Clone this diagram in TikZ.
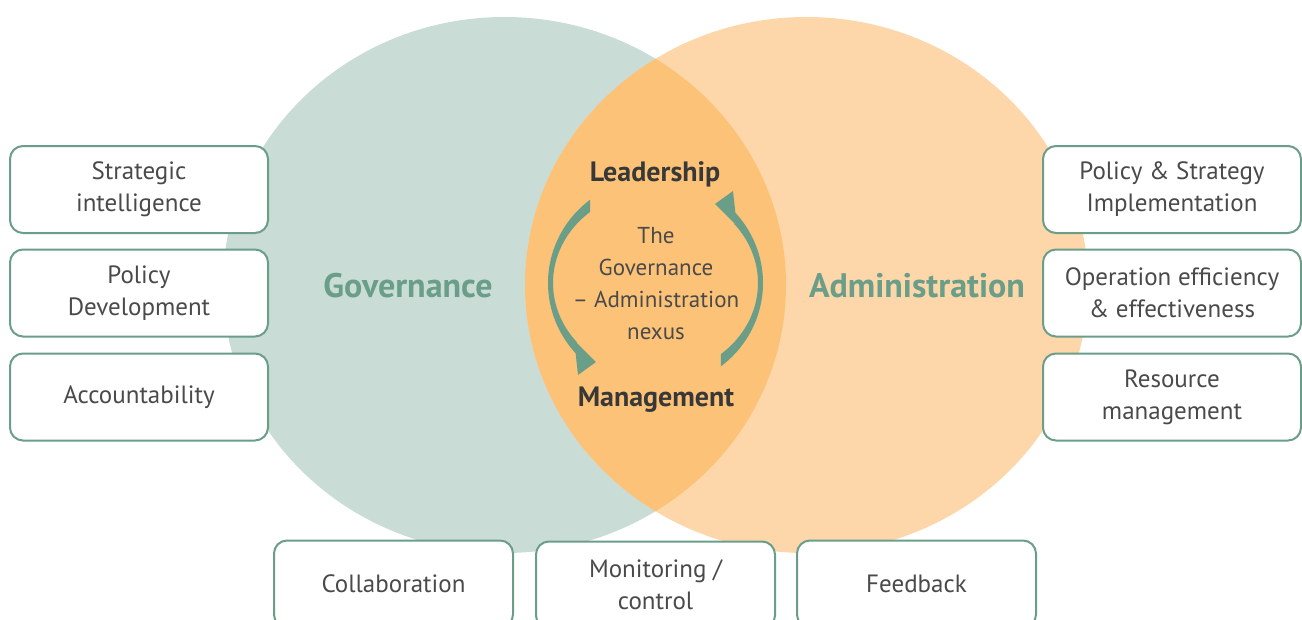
\documentclass[tikz,border=0pt]{standalone}
\usepackage{fontspec}
\setmainfont{PT Sans}
\usetikzlibrary{arrows.meta}
\definecolor{govfill}{HTML}{C9DCD6}
\definecolor{admfill}{HTML}{FDD7AA}
\definecolor{lensfill}{HTML}{FCC277}
\definecolor{accent}{HTML}{6A9E89}
\definecolor{txt}{HTML}{4A4A4A}
\definecolor{darktxt}{HTML}{383838}
\tikzset{
  infobox/.style={draw=accent, line width=2pt, fill=white, rounded corners=13pt,
    align=center, text=txt, font=\fontsize{25}{32}\selectfont, inner sep=0pt},
  sidebox/.style={infobox, minimum width=258pt, minimum height=87pt},
  botbox/.style={infobox, minimum width=239pt, minimum height=87pt},
  bigword/.style={text=accent, font=\fontsize{34}{40}\selectfont\bfseries},
  coreword/.style={text=darktxt, font=\fontsize{28}{32}\selectfont\bfseries},
  nexustext/.style={text=txt, align=center, font=\fontsize{23}{32}\selectfont},
  arrowfill/.style={fill=accent}
}
\begin{document}
\begin{tikzpicture}[x=1pt,y=-1pt]
\useasboundingbox (0,0) rectangle (1302,619);
% circles
\fill[govfill] (504.5,285) ellipse [x radius=281.5, y radius=268];
\fill[admfill] (806.5,285) ellipse [x radius=281.5, y radius=268];
\begin{scope}
  \clip (504.5,285) ellipse [x radius=281.5, y radius=268];
  \fill[lensfill] (806.5,285) ellipse [x radius=281.5, y radius=268];
\end{scope}
% circular arrows
\fill[arrowfill] (655.5,283) ++(232.5:107.5 and 105)
  arc[start angle=232.5, end angle=138, x radius=107.5, y radius=105]
  -- (578,375) -- (596,362) -- (576,342) -- (577,342.3)
  arc[start angle=140, end angle=230.3, x radius=102.5, y radius=92.3] -- cycle;
\begin{scope}[rotate around={180:(655.5,283)}]
\fill[arrowfill] (655.5,283) ++(232.5:107.5 and 105)
  arc[start angle=232.5, end angle=138, x radius=107.5, y radius=105]
  -- (578,375) -- (596,362) -- (576,342) -- (577,342.3)
  arc[start angle=140, end angle=230.3, x radius=102.5, y radius=92.3] -- cycle;
\end{scope}
% texts in circles
\node[bigword] (gov) at (408,286) {Governance};
\node[bigword] (adm) at (917,286) {Administration};
\node[coreword] (lead) at (655,174) {Leadership};
\node[coreword] (mgmt) at (656,400) {Management};
\node[nexustext] (nexus) at (656,284) {The\\Governance\\– Administration\\nexus};
% left boxes
\node[sidebox] (si) at (139,189.5) {Strategic\\intelligence};
\node[sidebox] (pd) at (139,293) {Policy\\Development};
\node[sidebox] (acc) at (139,397) {Accountability};
% right boxes
\node[sidebox] (psi) at (1172,189.5) {Policy \& Strategy\\Implementation};
\node[sidebox] (oee) at (1172,293) {Operation efficiency\\\& effectiveness};
\node[sidebox] (rm) at (1172,397) {Resource\\management};
% bottom boxes
\node[botbox] (col) at (393.5,584) {Collaboration};
\node[botbox] (mon) at (655.5,585) {Monitoring /\\control};
\node[botbox] (fb) at (916.5,584) {Feedback};
\end{tikzpicture}
\end{document}
